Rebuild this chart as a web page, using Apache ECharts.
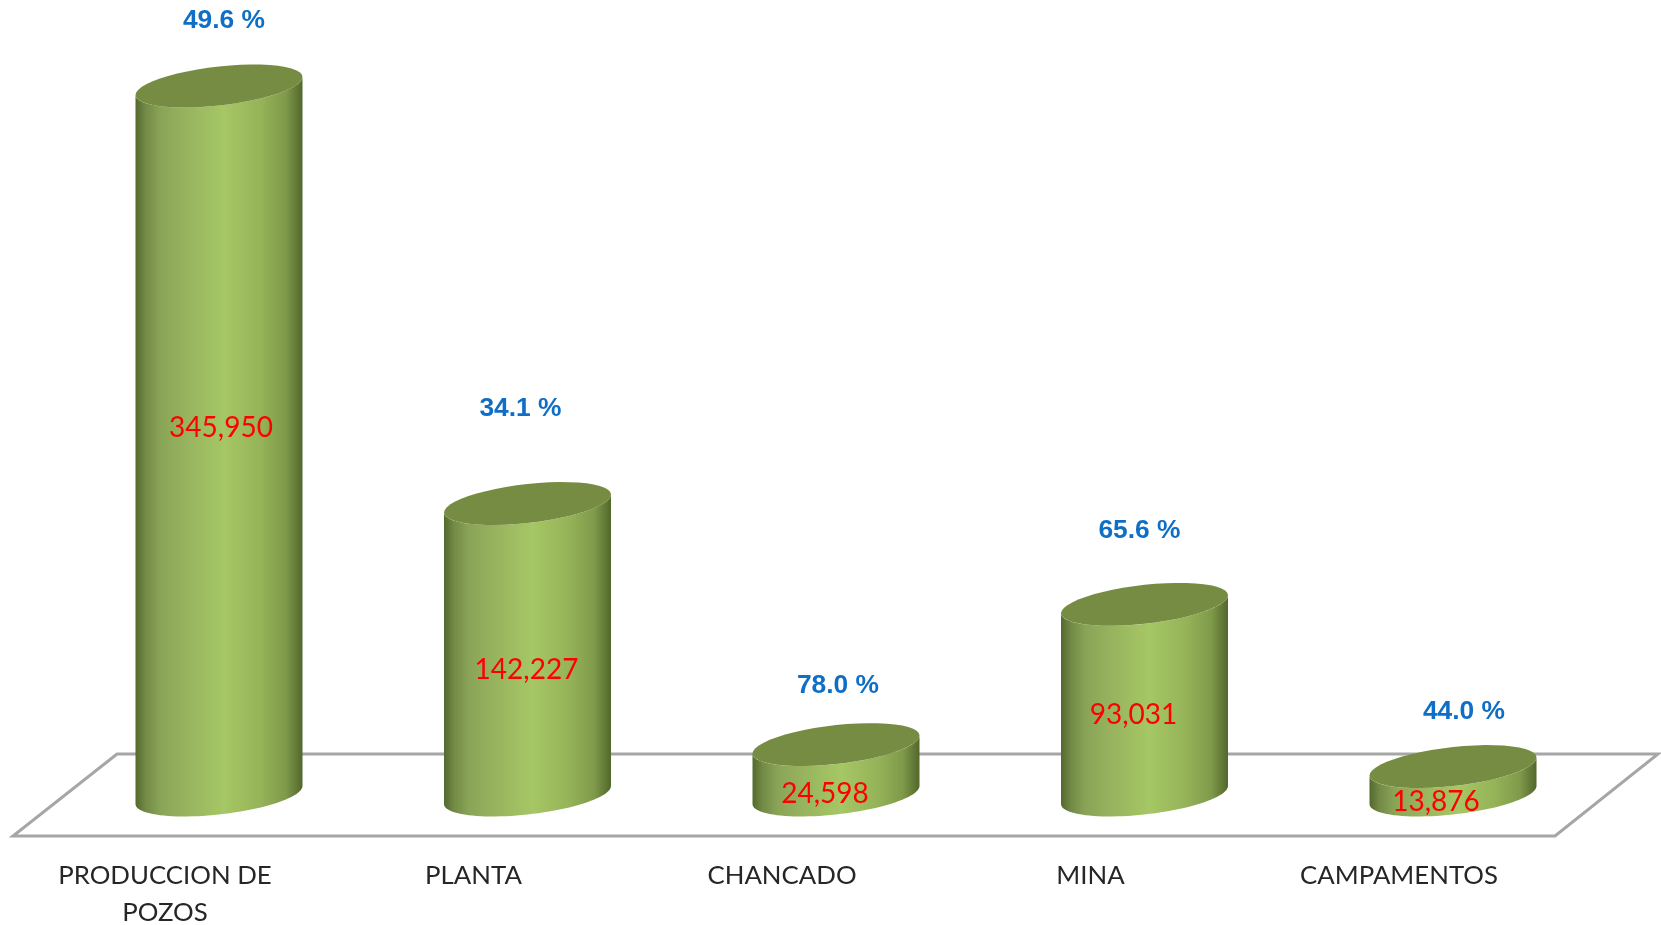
<!DOCTYPE html>
<html>
<head>
<meta charset="utf-8">
<title>Cilindros</title>
<style>
  html, body { margin: 0; padding: 0; background: #fff; }
  #main { width: 1661px; height: 925px; }
</style>
<script src="https://cdn.jsdelivr.net/npm/echarts@6/dist/echarts.min.js"></script>
</head>
<body>
<div id="main"></div>
<script>
var categories = ['PRODUCCION DE\nPOZOS', 'PLANTA', 'CHANCADO', 'MINA', 'CAMPAMENTOS'];
var values = [345950, 142227, 24598, 93031, 13876];
var percents = ['49.6 %', '34.1 %', '78.0 %', '65.6 %', '44.0 %'];

// label nudges in px, the original labels were placed by hand
var valueLabelShift = [[2, -367], [-1, -125], [-11, -1], [-11, -80], [-17, 7]];
var percentLabelShift = [[5, -65], [-7, -95], [2, -59], [-5, -74], [11, -55]];

var halfWidth = 83.5;
var ellipseB = 19.5;
var ellipseTilt = 9;

// points of the tilted ellipse, between two angles
function ellipsePoints(cx, cy, from, to) {
  var pts = [];
  var steps = 48;
  for (var i = 0; i <= steps; i++) {
    var t = from + (to - from) * i / steps;
    pts.push([
      cx + halfWidth * Math.cos(t),
      cy + ellipseB * Math.sin(t) - ellipseTilt * Math.cos(t)
    ]);
  }
  return pts;
}

function renderCylinder(params, api) {
  var i = params.dataIndex;
  var top = api.coord([api.value(0), api.value(1)]);
  var base = api.coord([api.value(0), 0]);
  var cx = top[0];

  // bottom front edge goes right to left, then back up along the top front edge
  var body = ellipsePoints(cx, base[1], 0, Math.PI)
    .concat(ellipsePoints(cx, top[1], Math.PI, 0));

  return {
    type: 'group',
    children: [
      {
        type: 'polygon',
        shape: { points: body },
        style: {
          fill: new echarts.graphic.LinearGradient(0, 0, 1, 0, [
            { offset: 0, color: '#54692f' },
            { offset: 0.06, color: '#728a45' },
            { offset: 0.15, color: '#8aa457' },
            { offset: 0.3, color: '#97b35e' },
            { offset: 0.53, color: '#a6c765' },
            { offset: 0.75, color: '#95b358' },
            { offset: 0.9, color: '#7f9a4a' },
            { offset: 1, color: '#52672c' }
          ])
        }
      },
      {
        type: 'polygon',
        shape: { points: ellipsePoints(cx, top[1], 0, Math.PI * 2) },
        style: { fill: '#768c42' }
      },
      {
        type: 'text',
        x: cx + valueLabelShift[i][0],
        y: base[1] + valueLabelShift[i][1],
        style: {
          text: values[i].toLocaleString('en-US'),
          fill: '#ff0000',
          font: '28px Lato',
          align: 'center',
          verticalAlign: 'middle'
        }
      },
      {
        type: 'text',
        x: cx + percentLabelShift[i][0],
        y: top[1] + percentLabelShift[i][1],
        style: {
          text: percents[i],
          fill: '#0f6fc6',
          font: 'bold 26.4px "Liberation Sans"',
          align: 'center',
          verticalAlign: 'middle'
        }
      }
    ]
  };
}

var chart = echarts.init(document.getElementById('main'));

var option = {
  backgroundColor: '#ffffff',
  animation: false,
  grid: { left: 64.75, right: 53.75, top: 77.7, bottom: 130, outerBoundsMode: 'none' },
  xAxis: {
    type: 'category',
    data: categories,
    axisLine: { show: false },
    axisTick: { show: false },
    axisLabel: {
      interval: 0,
      margin: 62,
      padding: [0, 108, 0, 0],
      color: '#262626',
      fontFamily: 'Lato',
      fontSize: 25.8,
      lineHeight: 37
    }
  },
  yAxis: {
    type: 'value',
    min: 0,
    max: 350000,
    show: false
  },
  graphic: [{
    type: 'polygon',
    z: 0,
    shape: { points: [[117, 754], [1658, 754], [1555, 836], [13, 836]] },
    style: { fill: '#ffffff', stroke: '#a6a6a6', lineWidth: 3 }
  }],
  series: [{
    type: 'custom',
    renderItem: renderCylinder,
    encode: { x: 0, y: 1 },
    data: categories.map(function (c, i) { return [i, values[i]]; }),
    z: 5
  }]
};

chart.setOption(option);
</script>
</body>
</html>
